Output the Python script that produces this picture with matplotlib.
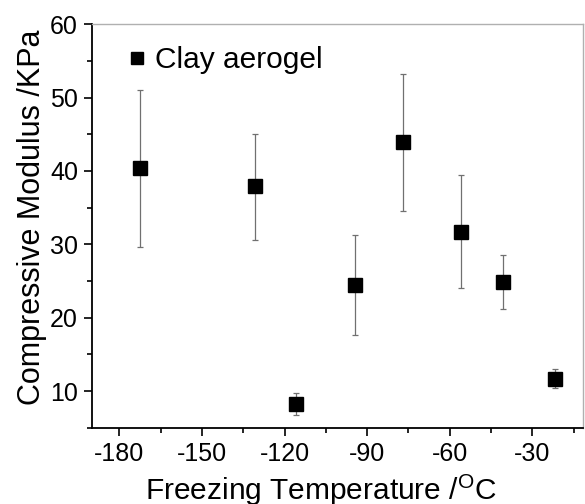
import matplotlib
matplotlib.use("Agg")
import matplotlib.pyplot as plt
from matplotlib.ticker import MultipleLocator

plt.rcParams['font.family'] = ['Liberation Sans', 'DejaVu Sans']
plt.rcParams['mathtext.default'] = 'regular'
plt.rcParams['axes.unicode_minus'] = False

# Freezing temperature (C) vs compressive modulus (KPa)
temps = [-172.4, -130.8, -116.0, -94.5, -76.8, -55.8, -40.7, -21.7]
modulus = [40.4, 37.9, 8.3, 24.5, 43.9, 31.7, 24.9, 11.7]
err_hi = [51.0, 45.1, 9.8, 31.3, 53.2, 39.4, 28.6, 13.0]
err_lo = [29.6, 30.6, 6.7, 17.6, 34.5, 24.1, 21.2, 10.5]

yerr = [[m - lo for m, lo in zip(modulus, err_lo)],
        [hi - m for m, hi in zip(modulus, err_hi)]]

fig = plt.figure(figsize=(5.85, 5.04), dpi=100)
ax = fig.add_axes([0.157, 0.151, 0.84, 0.801])

ax.errorbar(temps, modulus, yerr=yerr, fmt='none', ecolor='#707070',
            elinewidth=0.9, capsize=2.5, capthick=0.9)
ax.plot(temps, modulus, 's', color='black', markersize=9.5, label='Clay aerogel')

ax.set_xlim(-190, -11.5)
ax.set_ylim(5, 60)
ax.xaxis.set_minor_locator(MultipleLocator(15))
ax.yaxis.set_minor_locator(MultipleLocator(5))
ax.set_xticks([-180, -150, -120, -90, -60, -30])
ax.set_yticks([10, 20, 30, 40, 50, 60])

ax.tick_params(which='major', direction='out', length=6, width=1.2, labelsize=18,
               colors='black', pad=4)
ax.tick_params(which='minor', direction='out', length=3.5, width=1.2)
ax.tick_params(top=False, right=False)

for s in ['left', 'bottom']:
    ax.spines[s].set_linewidth(1.3)
for s in ['top', 'right']:
    ax.spines[s].set_color('#b0b0b0')
    ax.spines[s].set_linewidth(1.0)

ax.set_xlabel('Freezing Temperature /$^{O}$C', fontsize=21.5, labelpad=5)
ax.set_ylabel('Compressive Modulus /KPa', fontsize=22, labelpad=2)
ax.xaxis.label.set_x(0.467)
ax.yaxis.label.set_y(0.521)

ax.legend(loc='upper left', frameon=False, fontsize=21.5, handlelength=0.6,
          handletextpad=0.3, borderaxespad=0.0, bbox_to_anchor=(0.05, 0.975),
          markerscale=0.95)

fig.savefig('out.png', dpi=100)
